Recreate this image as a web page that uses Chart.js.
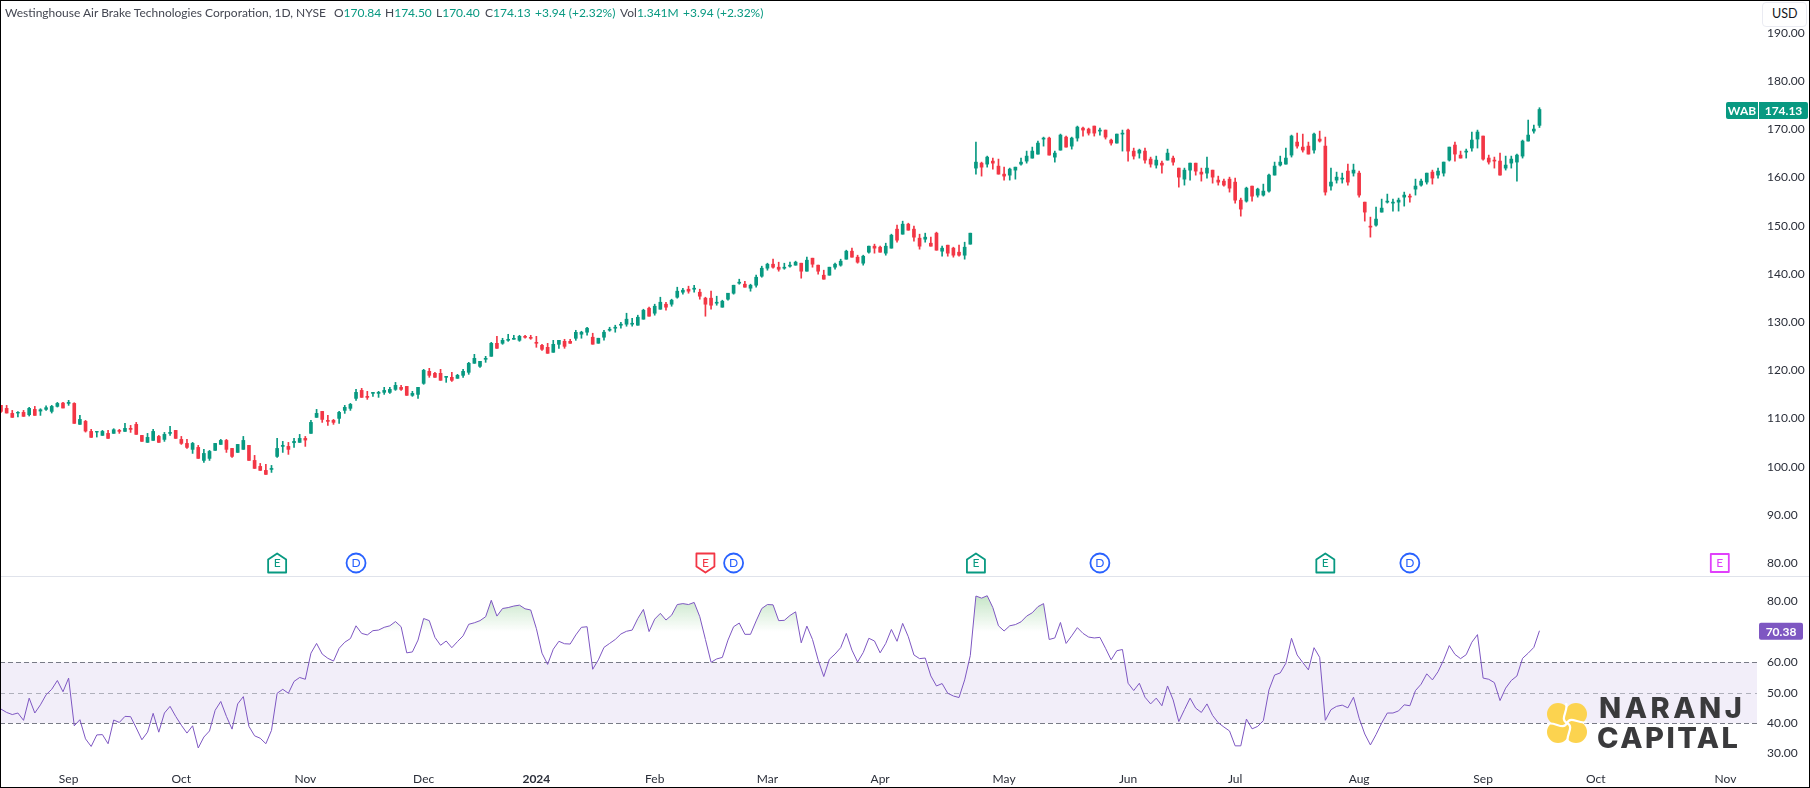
<!DOCTYPE html>
<html><head><meta charset="utf-8">
<style>
html,body{margin:0;padding:0;background:#fff;width:1810px;height:788px;overflow:hidden}
#wrap{position:relative;width:1810px;height:788px;font-family:"Lato","Open Sans",sans-serif;color:#131722}
canvas{position:absolute;left:0}
#top{top:0}#bot{top:577px}
.t{position:absolute;top:4px;font-size:12px;line-height:17px;white-space:pre;color:#434651}
.g{color:#089981}
#frame{position:absolute;left:0;top:0;width:1810px;height:788px;box-sizing:border-box;border:1px solid #000;border-left-width:1.5px;pointer-events:none}
#usd{position:absolute;left:1762px;top:2px;width:45px;height:25px;box-sizing:border-box;border:1.5px solid #eaebf2;border-radius:4px;background:#fff;font-size:12.5px;line-height:22px;padding-left:9px;color:#131722}
.logo{position:absolute;font-family:"Inter","Open Sans",sans-serif;font-weight:800;color:#3a3a3c;font-size:29px;line-height:29px;white-space:pre}
#logoIcon{position:absolute;left:1547px;top:703px;width:40px;height:40px}
</style></head><body>
<div id="wrap">
<canvas id="top" width="1810" height="577"></canvas>
<canvas id="bot" width="1810" height="211"></canvas>
<span class="t" style="left:5px">Westinghouse Air Brake Technologies Corporation, 1D, NYSE</span>
<span class="t" style="left:334px">O<span class="g">170.84</span></span>
<span class="t" style="left:385px">H<span class="g">174.50</span></span>
<span class="t" style="left:436px">L<span class="g">170.40</span></span>
<span class="t" style="left:485px">C<span class="g">174.13</span></span>
<span class="t g" style="left:535px">+3.94 (+2.32%)</span>
<span class="t" style="left:620px">Vol<span class="g">1.341M</span></span>
<span class="t g" style="left:683px">+3.94 (+2.32%)</span>
<div id="usd">USD</div>
<svg id="logoIcon" viewBox="0 0 40 40"><g fill="#fcd34f">
<circle cx="11" cy="11" r="11"/><circle cx="29" cy="11" r="11"/><circle cx="11" cy="29" r="11"/><circle cx="29" cy="29" r="11"/><rect x="10" y="10" width="20" height="20"/></g>
<g fill="none" stroke="#fff" stroke-width="2.2">
<path d="M20 20C12 16 22 8 19 0"/><path d="M20 20C24 12 32 22 40 19"/><path d="M20 20C28 24 18 32 21 40"/><path d="M20 20C16 28 8 18 0 21"/></g></svg>
<div class="logo" style="left:1599px;top:693px;letter-spacing:3.5px">NARANJ</div>
<div class="logo" style="left:1597px;top:723px;letter-spacing:2.5px">CAPITAL</div>
<div id="frame"></div>
</div>
<script src="https://cdn.jsdelivr.net/npm/chart.js@4"></script>
<script>
const opens=[112.74,112.12,111.08,111.15,111.29,110.80,111.91,111.56,111.91,111.49,
112.53,113.22,113.15,113.15,108.80,109.42,107.34,107.20,106.51,106.93,
106.93,107.55,107.34,107.97,108.80,106.51,105.06,105.47,106.30,105.68,
106.93,107.55,105.68,104.85,103.61,104.02,101.32,101.74,103.40,104.64,
105.47,103.81,102.98,103.61,104.44,101.32,100.08,99.25,99.45,102.15,
104.23,104.23,104.99,105.06,105.89,106.93,110.25,111.49,109.63,109.63,
110.04,111.70,112.12,114.19,115.85,114.61,115.23,115.23,115.44,115.44,
116.06,116.48,116.68,114.82,115.02,117.31,119.80,119.39,119.39,118.56,
118.56,118.35,118.97,119.60,121.47,120.84,122.30,122.92,125.62,125.62,
126.24,126.45,126.24,127.07,126.86,125.82,125.20,124.79,123.75,125.41,
126.03,126.03,126.66,127.50,127.92,126.88,125.63,126.88,128.33,128.75,
129.37,129.58,129.58,129.37,130.62,132.90,131.86,132.69,133.73,133.73,
135.18,136.22,136.84,136.84,136.22,134.98,134.98,133.94,133.11,134.77,
136.01,138.09,137.88,137.05,137.67,139.54,141.20,142.03,141.41,141.20,
141.62,141.83,142.24,140.58,143.28,141.83,139.75,139.75,141.41,141.83,
143.07,144.73,143.49,142.24,144.52,145.77,145.56,144.32,145.36,149.30,
148.26,150.34,149.30,147.43,147.22,146.39,148.47,144.73,145.98,145.36,
144.52,143.90,146.19,161.97,163.00,162.80,163.42,162.38,160.72,160.51,
161.55,162.80,163.42,164.04,164.87,167.99,168.20,164.25,165.70,168.40,
166.53,168.20,170.27,170.06,170.69,169.65,169.86,167.78,167.16,169.03,
169.86,165.50,165.08,165.50,163.84,162.59,163.00,163.63,164.04,161.97,
159.68,161.55,163.00,161.14,160.93,161.55,159.48,159.27,159.68,159.06,
155.32,155.12,158.23,156.36,156.37,157.20,160.52,162.60,162.80,164.67,
167.37,166.33,166.54,165.71,167.99,166.54,158.24,159.48,159.69,161.35,
160.93,160.93,154.91,149.93,150.14,152.84,154.91,154.71,154.91,155.95,
156.16,157.61,158.44,159.07,161.14,160.52,160.93,163.63,166.75,164.67,
165.29,166.13,168.00,168.62,164.05,163.63,163.43,161.97,163.01,163.22,
164.46,167.58,169.65,170.84];
const highs=[112.74,112.74,111.70,111.43,111.70,112.33,112.53,112.05,112.67,112.74,
113.36,113.36,113.78,113.29,110.66,109.63,107.76,107.34,107.55,107.55,
107.90,107.76,109.00,108.59,109.21,106.51,106.93,107.76,106.51,107.13,
108.38,107.55,106.30,105.68,105.06,104.44,103.61,103.40,104.85,105.68,
105.68,103.81,104.64,106.30,104.44,102.36,100.70,100.49,100.28,105.89,
105.27,105.06,105.89,106.72,106.30,109.63,111.91,111.49,110.66,109.83,
111.49,112.74,113.15,116.06,116.27,115.65,115.44,115.65,116.48,116.48,
117.51,116.89,116.68,115.65,116.48,120.22,120.43,119.60,120.22,118.77,
119.60,119.18,120.22,121.67,123.33,121.88,122.92,125.82,127.07,126.66,
127.49,127.28,127.28,127.28,127.28,127.07,125.41,125.62,126.24,126.24,
126.45,126.45,128.32,128.12,128.95,127.71,126.67,128.33,128.95,129.37,
129.99,131.86,130.82,131.45,132.69,133.11,133.73,135.18,134.14,134.77,
137.26,137.05,137.47,137.67,136.84,135.18,136.43,135.39,134.56,136.01,
137.67,138.92,138.50,137.88,139.75,141.62,142.24,143.07,142.45,142.24,
142.45,142.66,142.24,143.49,143.28,141.83,140.79,141.41,142.24,143.07,
144.94,145.36,143.90,143.90,145.77,146.19,145.77,146.39,148.26,150.13,
150.96,150.54,149.92,148.26,148.47,147.64,148.68,145.77,145.98,145.56,
145.98,146.60,148.47,167.37,163.21,164.46,164.04,163.84,162.17,161.97,
162.17,164.04,165.50,166.33,167.57,168.40,168.40,165.50,169.03,168.61,
168.40,170.69,170.48,170.27,170.69,170.27,169.86,167.99,169.03,169.86,
170.06,166.12,165.91,166.12,164.25,164.46,163.42,165.91,164.46,161.97,
161.97,163.00,163.00,161.97,164.25,161.55,160.31,159.68,160.10,159.89,
155.74,158.02,158.23,157.81,158.65,160.73,163.22,164.46,166.13,168.82,
169.24,169.03,167.37,169.24,169.65,168.41,161.97,161.14,160.93,162.80,
162.80,161.35,154.91,151.80,153.88,155.54,156.58,155.54,155.75,156.99,
156.58,159.69,159.69,160.93,161.56,161.97,163.22,166.33,167.37,165.50,
165.92,169.45,169.86,168.62,164.67,164.26,165.09,164.46,164.46,164.88,
167.79,171.94,170.90,174.50];
const lows=[111.30,111.15,110.25,110.32,110.46,110.53,110.66,110.66,111.70,111.15,
112.39,112.19,112.74,109.00,108.80,107.20,106.10,106.17,106.51,105.89,
106.93,106.93,107.34,107.13,106.72,105.27,105.06,105.47,105.06,105.27,
106.51,105.89,104.64,103.81,102.77,101.74,100.91,101.32,103.40,104.64,
102.98,101.94,102.98,103.61,101.32,99.66,99.25,98.42,98.83,101.94,
102.98,102.57,104.02,105.06,104.23,106.93,110.25,109.21,108.59,108.80,
109.00,111.08,111.70,113.78,114.40,113.99,114.61,114.40,115.02,115.23,
115.85,115.85,114.82,114.61,114.19,117.11,118.56,118.56,117.94,117.52,
117.73,118.35,118.56,119.18,121.47,120.63,121.67,122.92,124.58,125.41,
126.03,126.45,126.03,126.66,126.45,124.79,124.16,123.54,123.75,124.58,
124.58,125.62,126.24,126.67,127.29,125.43,125.63,126.26,128.12,127.92,
128.75,129.16,129.16,129.37,130.62,131.24,131.45,132.69,132.48,133.31,
134.98,135.81,136.01,136.22,134.77,131.24,132.69,133.52,133.11,134.56,
135.81,137.88,137.26,136.43,137.26,139.33,140.79,141.20,140.58,140.98,
141.41,141.83,139.13,140.58,141.41,139.96,138.92,139.75,140.98,141.62,
143.07,143.49,142.24,141.83,144.32,144.32,144.52,143.90,145.36,146.60,
148.26,149.09,146.81,145.15,146.60,145.77,144.94,143.69,143.69,143.49,
143.69,143.07,146.19,160.72,160.31,162.17,161.76,160.72,159.48,159.48,
159.68,162.59,163.00,164.04,164.87,166.53,164.67,163.21,165.70,166.33,
165.91,167.57,168.61,168.82,168.61,168.82,167.99,166.74,167.16,165.50,
163.42,163.84,164.04,163.00,162.17,161.97,160.93,163.63,162.59,158.02,
158.44,159.48,160.51,159.27,159.89,158.85,158.44,158.23,156.99,154.70,
152.00,154.91,155.12,155.95,156.16,156.99,160.52,162.39,162.80,164.26,
166.13,165.29,164.88,165.09,167.37,156.37,157.41,158.86,158.86,158.44,
160.31,155.95,150.97,147.65,149.93,152.84,154.71,153.05,153.05,154.08,
154.91,156.37,158.24,158.65,158.65,159.90,160.31,163.43,163.43,164.05,
164.05,165.50,166.13,163.63,162.80,161.97,160.52,161.56,161.97,159.27,
164.05,167.58,169.24,170.40];
const closes=[111.49,111.15,110.25,111.29,110.46,112.12,110.66,111.84,112.26,112.53,
113.15,112.19,113.36,109.00,109.83,107.41,106.10,107.34,107.34,105.89,
107.69,107.34,107.97,107.76,106.72,105.27,106.10,107.34,105.06,106.72,
107.13,105.89,104.85,104.02,104.85,101.74,102.77,103.19,104.85,105.47,
103.61,102.15,104.64,105.47,101.32,99.66,99.25,98.42,99.66,103.81,
104.44,103.61,105.27,105.89,105.54,109.21,111.08,109.83,109.42,109.21,
111.29,112.33,112.95,115.44,114.40,114.40,115.44,115.44,115.85,116.06,
116.89,116.06,114.82,115.23,116.48,120.01,118.97,118.56,117.94,118.77,
117.94,118.97,119.80,121.47,122.50,121.88,122.50,125.62,124.58,126.24,
126.45,126.66,127.07,126.86,126.66,125.62,124.37,123.54,125.41,126.24,
124.99,125.62,127.90,127.92,128.75,125.43,126.67,127.92,128.54,128.95,
129.58,130.62,129.78,131.03,132.48,131.24,133.31,134.14,133.11,134.56,
136.43,136.64,136.43,137.05,135.39,133.73,133.52,134.14,134.35,136.01,
137.67,138.30,137.26,137.67,139.33,141.20,142.03,141.41,140.98,141.41,
141.83,142.45,140.58,142.86,142.03,140.58,138.92,141.41,142.03,142.66,
144.73,143.49,142.45,143.69,145.77,145.36,144.52,145.77,148.05,147.02,
150.34,149.09,147.64,145.77,147.64,145.77,144.94,145.36,144.32,143.90,
143.90,145.56,148.47,163.21,162.17,164.25,163.00,160.72,160.31,161.76,
162.17,163.21,164.46,165.50,167.16,168.20,164.67,165.08,168.82,166.33,
168.20,170.48,169.86,169.23,169.23,169.86,168.40,167.16,169.03,169.23,
165.50,164.46,165.70,163.63,162.80,163.63,162.59,165.08,163.21,160.10,
161.55,163.00,161.34,160.72,161.97,160.10,159.06,158.44,157.81,155.32,
153.46,157.81,156.15,157.61,157.20,160.52,162.39,163.22,164.05,168.62,
166.54,165.71,164.88,169.03,167.58,156.99,159.07,160.10,159.90,159.07,
161.56,156.37,152.84,149.72,151.39,153.67,155.12,154.91,155.33,156.37,
155.95,158.24,159.27,160.93,159.90,161.35,163.22,166.33,164.88,164.05,
165.50,167.79,169.45,163.84,163.22,163.43,160.52,162.60,163.84,164.67,
167.58,168.82,170.07,174.13];
const rsi=[44.6,43.5,42.8,43.3,40.9,48.2,43.3,46.0,49.3,51.1,
54.0,50.3,54.8,39.1,41.1,34.8,32.3,36.1,36.2,33.2,
41.0,40.2,42.2,42.1,38.4,34.5,37.0,43.2,37.0,43.3,
45.5,42.2,39.3,36.7,39.1,31.8,35.4,37.4,44.2,47.1,
42.2,38.0,46.3,48.7,38.9,35.8,35.0,33.2,37.6,49.8,
51.1,49.8,53.7,55.0,54.4,63.0,66.2,62.7,61.3,60.4,
64.6,66.6,67.8,72.0,69.5,69.0,70.4,70.6,71.5,72.0,
73.4,71.7,63.1,63.4,67.3,74.4,73.7,68.2,65.6,67.0,
64.8,66.8,68.7,72.5,73.0,73.7,75.0,80.4,75.2,77.7,
78.0,78.5,78.8,77.6,77.2,71.1,63.0,59.3,64.3,66.9,
66.1,66.0,69.0,71.5,71.7,57.7,60.8,64.9,66.2,67.5,
69.3,70.2,70.6,74.4,77.4,70.1,74.2,76.1,73.9,75.5,
79.0,79.3,79.0,79.7,75.0,67.5,60.0,61.1,61.6,67.3,
71.7,72.9,69.2,69.2,73.6,77.7,79.0,78.9,73.7,73.8,
75.4,76.6,66.4,71.9,67.5,60.8,55.3,61.0,62.7,64.8,
69.5,64.0,60.1,63.2,67.9,67.0,63.1,66.2,70.8,66.9,
72.8,68.4,62.4,61.2,61.4,55.5,52.2,53.0,49.8,48.9,
48.4,54.2,62.2,81.8,81.1,81.9,78.0,72.0,70.3,72.0,
72.4,73.3,75.2,76.3,78.3,79.3,67.5,68.0,73.1,66.2,
68.7,71.4,69.5,68.3,68.0,68.2,64.6,60.8,63.8,64.2,
53.1,50.7,53.1,48.5,46.3,48.2,45.7,52.2,47.6,40.5,
44.4,48.2,44.9,43.5,46.3,42.5,40.1,38.7,37.4,32.5,
32.5,41.3,38.1,38.9,40.8,50.9,55.8,56.5,59.7,67.9,
62.4,59.9,57.5,64.8,61.6,40.9,44.4,45.5,45.9,45.0,
48.5,41.6,36.4,32.8,36.2,40.0,43.3,43.3,44.0,46.0,
45.7,50.7,52.8,56.2,54.2,56.9,60.8,65.5,62.6,61.2,
62.5,66.6,69.1,54.8,54.4,53.3,47.4,51.5,54.0,55.5,
61.3,63.0,64.9,70.38];
const priceTicks=[80,90,100,110,120,130,140,150,160,170,180,190];
const priceRange=[77.13,196.85];
const rsiTicks=[30,40,50,60,80];
const rsiRange=[26.2,88.06];
const rsiBand=[40,60];
const rsiLevels=[40,50,60];
const monthLabels=['Sep','Oct','Nov','Dec','2024','Feb','Mar','Apr','May','Jun','Jul','Aug','Sep','Oct','Nov'];
const monthBars=[12,32,54,75,95,116,136,156,178,200,219,241,263,283,306];
const eventBars=[49,63,125,130,173,195,235,250,305];
const eventKinds=['E','D','E','D','E','D','E','D','E'];
const eventColors=['#089981','#2962ff','#f23645','#2962ff','#089981','#2962ff','#089981','#2962ff','#e040fb'];
const symbol='WAB', lastPriceText='174.13', lastRsiText='70.38';

const UP='#089981', DOWN='#f23645', PURPLE='#7e57c2', FONT='"Lato","Open Sans",sans-serif';
const barIdx=closes.map((_,i)=>i);
const candleColors=closes.map((c,i)=>c>=opens[i]?UP:DOWN);
const xMin=-0.177, xMax=311.6;
function noPad(s){s.paddingTop=0;s.paddingBottom=0;s.paddingLeft=0;s.paddingRight=0;}
const baseX={type:'linear',min:xMin,max:xMax,bounds:'data',offset:false,grid:{display:false,drawTicks:false},border:{display:false}};
function hexPath(ctx,x,y,kind,color){
  ctx.beginPath();
  if(kind==='D'){ctx.arc(x,y,9.5,0,Math.PI*2);}
  else if(color==='#f23645'){ctx.moveTo(x-9,y-9.5);ctx.lineTo(x+9,y-9.5);ctx.lineTo(x+9,y+3.5);ctx.lineTo(x,y+9.5);ctx.lineTo(x-9,y+3.5);ctx.closePath();}
  else if(color==='#e040fb'){ctx.rect(x-9,y-9,18,18);}
  else {ctx.moveTo(x-9,y+9.5);ctx.lineTo(x+9,y+9.5);ctx.lineTo(x+9,y-3.5);ctx.lineTo(x,y-9.5);ctx.lineTo(x-9,y-3.5);ctx.closePath();}
}
const topPlugin={id:'topOverlay',afterDraw(c){
  const ctx=c.ctx,xs=c.scales.x,ys=c.scales.y;
  ctx.save();
  ctx.fillStyle='#e0e3eb';ctx.fillRect(0,576,1810,1);
  eventBars.forEach((b,i)=>{
    const x=xs.getPixelForValue(b),y=563;
    hexPath(ctx,x,y,eventKinds[i],eventColors[i]);
    ctx.fillStyle='#fff';ctx.fill();
    ctx.lineWidth=1.8;ctx.strokeStyle=eventColors[i];ctx.lineJoin='round';ctx.stroke();
    ctx.fillStyle=eventColors[i];ctx.font='12px '+FONT;ctx.textAlign='center';ctx.textBaseline='middle';
    ctx.fillText(eventKinds[i],x,y+0.5);
  });
  const yy=ys.getPixelForValue(closes[closes.length-1])+1;
  ctx.fillStyle=UP;
  ctx.beginPath();ctx.roundRect(1726,yy-8.5,32,17,[2,0,0,2]);ctx.fill();
  ctx.beginPath();ctx.roundRect(1759,yy-8.5,49,17,[0,2,2,0]);ctx.fill();
  ctx.fillStyle='#fff';ctx.font='700 12px '+FONT;ctx.textBaseline='middle';ctx.textAlign='center';
  ctx.fillText(symbol,1742,yy+0.5);
  ctx.fillText(lastPriceText,1783.5,yy+0.5);
  ctx.restore();
}};
new Chart(document.getElementById('top'),{
  type:'bar',
  data:{datasets:[
    {label:'wick',data:barIdx.map(i=>({x:i,y:[lows[i],highs[i]]})),backgroundColor:candleColors,barThickness:1,grouped:false,order:2},
    {label:'body',data:barIdx.map(i=>({x:i,y:[Math.min(opens[i],closes[i]),Math.max(opens[i],closes[i])]})),backgroundColor:candleColors,barThickness:3,grouped:false,order:1}
  ]},
  plugins:[topPlugin],
  options:{responsive:false,animation:false,devicePixelRatio:1,layout:{padding:0,autoPadding:false},
    plugins:{legend:{display:false},tooltip:{enabled:false}},
    scales:{
      x:{...baseX,display:false},
      y:{position:'right',min:priceRange[0],max:priceRange[1],bounds:'data',grid:{display:false,drawTicks:false},border:{display:false},
        afterFit(s){s.width=53;noPad(s);},
        afterBuildTicks(s){s.min=priceRange[0];s.max=priceRange[1];s.ticks=priceTicks.map(v=>({value:v}));},
        ticks:{padding:10,autoSkip:false,color:'#2a2e39',font:{family:FONT,size:12},callback:v=>v.toFixed(2)}
      }
    }
  }
});
const botBack={id:'rsiBack',beforeDatasetsDraw(c){
  const ctx=c.ctx,a=c.chartArea,ys=c.scales.y;
  ctx.save();
  ctx.fillStyle='rgba(126,87,194,0.1)';
  const t=ys.getPixelForValue(rsiBand[1]),b=ys.getPixelForValue(rsiBand[0]);
  ctx.fillRect(a.left,t,a.right-a.left,b-t);
  rsiLevels.forEach(v=>{
    const y=Math.round(ys.getPixelForValue(v))+0.5;
    ctx.beginPath();ctx.setLineDash(v===50?[5,4]:[5,3]);
    ctx.strokeStyle=v===50?'rgba(120,123,134,0.55)':'#787b86';ctx.lineWidth=1;
    ctx.moveTo(a.left,y);ctx.lineTo(a.right,y);ctx.stroke();
  });
  ctx.restore();
},afterDraw(c){
  const ctx=c.ctx,ys=c.scales.y;
  const yy=ys.getPixelForValue(rsi[rsi.length-1])+0.5;
  ctx.save();
  ctx.fillStyle=PURPLE;ctx.beginPath();ctx.roundRect(1759,yy-8.5,44,17,2);ctx.fill();
  ctx.fillStyle='#fff';ctx.font='700 12px '+FONT;ctx.textAlign='center';ctx.textBaseline='middle';
  ctx.fillText(lastRsiText,1781,yy+0.5);
  ctx.restore();
}};
const bot=new Chart(document.getElementById('bot'),{
  type:'line',
  data:{datasets:[{label:'RSI',data:barIdx.map(i=>({x:i,y:rsi[i]})),borderColor:PURPLE,borderWidth:1,pointRadius:0,tension:0,
    fill:{value:70,above:'rgba(76,175,80,0.2)',below:'rgba(0,0,0,0)'}}]},
  plugins:[botBack],
  options:{responsive:false,animation:false,devicePixelRatio:1,layout:{padding:0,autoPadding:false},
    plugins:{legend:{display:false},tooltip:{enabled:false}},
    scales:{
      x:{...baseX,
        afterFit(s){s.height=23;noPad(s);},
        afterBuildTicks(s){s.ticks=monthBars.map(v=>({value:v}));},
        ticks:{autoSkip:false,maxRotation:0,padding:7,color:'#2a2e39',includeBounds:false,
          font:c=>({family:FONT,size:12,weight:monthLabels[monthBars.indexOf(c.tick&&c.tick.value)]==='2024'?'700':'400'}),
          callback:v=>monthLabels[monthBars.indexOf(v)]}},
      y:{position:'right',min:rsiRange[0],max:rsiRange[1],bounds:'data',grid:{display:false,drawTicks:false},border:{display:false},
        afterFit(s){s.width=53;noPad(s);},
        afterBuildTicks(s){s.min=rsiRange[0];s.max=rsiRange[1];s.ticks=rsiTicks.map(v=>({value:v}));},
        ticks:{padding:10,autoSkip:false,color:'#2a2e39',font:{family:FONT,size:12},callback:v=>v.toFixed(2)}}
    }
  }
});
const ys=bot.scales.y;
const grad=bot.ctx.createLinearGradient(0,ys.getPixelForValue(82),0,ys.getPixelForValue(70));
grad.addColorStop(0,'rgba(76,175,80,0.32)');grad.addColorStop(1,'rgba(76,175,80,0)');
bot.data.datasets[0].fill.above=grad;
bot.update();
</script>
</body></html>
